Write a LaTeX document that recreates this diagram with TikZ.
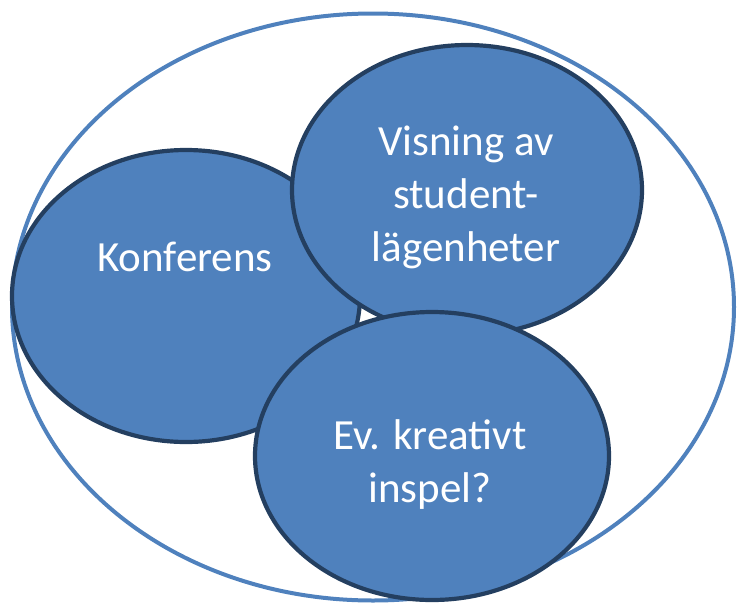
\documentclass[tikz,border=0pt]{standalone}
\usepackage{fontspec}
\setmainfont{Carlito}
\usetikzlibrary{shapes.geometric}
\definecolor{fillblue}{HTML}{4F81BD}
\definecolor{darkline}{HTML}{243F60}
\begin{document}
\begin{tikzpicture}[x=1pt,y=-1pt,
  bubble/.style={ellipse,draw=darkline,fill=fillblue,line width=4.2pt,inner sep=0pt},
  bubbletext/.style={text=white,font=\fontsize{43}{53}\selectfont,align=center,inner sep=0pt}]
\useasboundingbox (0,0) rectangle (737,603);
\node[ellipse,draw=fillblue,line width=4pt,minimum width=722pt,minimum height=587pt,inner sep=0pt] (outer) at (373,307) {};
\node[bubble,minimum width=348pt,minimum height=292pt] (konf) at (186,296) {};
\node[bubble,minimum width=350pt,minimum height=290pt] (vis) at (467,190) {};
\node[bubble,minimum width=354pt,minimum height=288pt] (ev) at (432,456) {};
\node[bubbletext] (konft) at (185,257) {Konferens};
\node[bubbletext] (vist) at (466,197) {Visning av\\student-\\lägenheter};
\node[bubbletext] (evt) at (430,465) {Ev. kreativt\\inspel?};
\end{tikzpicture}
\end{document}
